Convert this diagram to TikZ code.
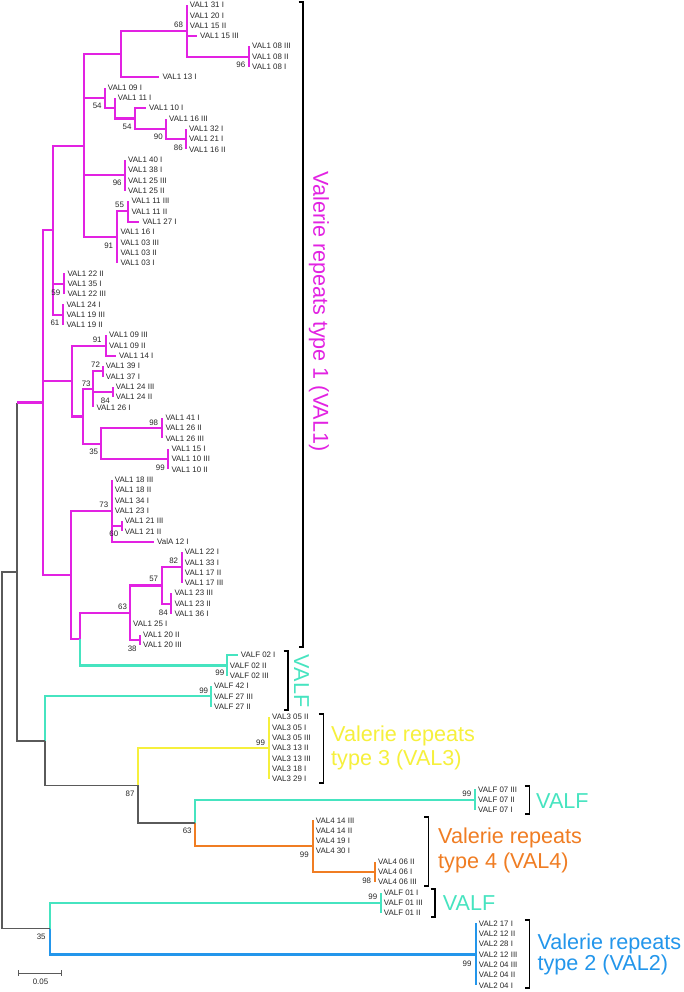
\documentclass[tikz,border=0pt]{standalone}
\usepackage{fontspec}
\setmainfont{Liberation Sans}
\usepackage{tikz}
\definecolor{valone}{RGB}{226, 34, 226}
\definecolor{valf}{RGB}{70, 228, 192}
\definecolor{valthree}{RGB}{246, 240, 60}
\definecolor{valfour}{RGB}{240, 125, 35}
\definecolor{valtwo}{RGB}{35, 150, 235}
\definecolor{treegray}{RGB}{90, 90, 90}
\definecolor{labgray}{RGB}{40, 40, 40}
\newcommand{\clade}[3]{
\foreach \kid in {#3} {\draw[#1] (#2) |- (\kid);}
}
\newcommand{\grpbracket}[3]{
\draw[brk] (#1-4.5,#2) -- (#1,#2) -- (#1,#3) -- (#1-4.5,#3);
}

\begin{document}
\begin{tikzpicture}[x=1pt, y=-1pt,
    v1/.style={valone, line width=2.1pt},
    vf/.style={valf, line width=2.1pt},
    v3/.style={valthree, line width=2.1pt},
    v4/.style={valfour, line width=2.1pt},
    v2/.style={valtwo, line width=2.1pt},
    bb/.style={treegray, line width=1.6pt},
    brk/.style={black, line width=1.5pt},
    lab/.style={anchor=west, inner sep=0pt, xshift=3pt, text=labgray, font=\fontsize{7.9}{9}\selectfont},
    boot/.style={inner sep=0pt, text=labgray, font=\fontsize{7.9}{9}\selectfont},
    grp/.style={inner sep=0pt, font=\fontsize{21.6}{24}\selectfont}]
    \fill[white] (0,0) rectangle (684,992);
    \useasboundingbox (0,0) rectangle (684,992);

    % tips and their names
    \foreach \i/\x/\txt in {0/186.7/VAL1 31 I, 1/186.7/VAL1 20 I, 2/186.7/VAL1 15 II,
        3/197/VAL1 15 III, 4/249/VAL1 08 III, 5/249/VAL1 08 II, 6/249/VAL1 08 I,
        7/159.3/VAL1 13 I, 8/104.7/VAL1 09 I, 9/114.7/VAL1 11 I, 10/146/VAL1 10 I,
        11/166/VAL1 16 III, 12/186/VAL1 32 I, 13/186/VAL1 21 I, 14/186/VAL1 16 II,
        15/125/VAL1 40 I, 16/125/VAL1 38 I, 17/125/VAL1 25 III, 18/125/VAL1 25 II,
        19/128.3/VAL1 11 III, 20/128.3/VAL1 11 II, 21/139.3/VAL1 27 I,
        22/117.3/VAL1 16 I, 23/117.3/VAL1 03 III, 24/117.3/VAL1 03 II, 25/117.3/VAL1 03 I,
        26/64.3/VAL1 22 II, 27/64.3/VAL1 35 I, 28/64.3/VAL1 22 III,
        29/63.3/VAL1 24 I, 30/63.3/VAL1 19 III, 31/63.3/VAL1 19 II,
        32/106/VAL1 09 III, 33/106/VAL1 09 II, 34/116/VAL1 14 I,
        35/102.7/VAL1 39 I, 36/102.7/VAL1 37 I, 37/112.7/VAL1 24 III, 38/112.7/VAL1 24 II,
        39/93.3/VAL1 26 I, 40/162.3/VAL1 41 I, 41/162.3/VAL1 26 II, 42/162.3/VAL1 26 III,
        43/168.3/VAL1 15 I, 44/168.3/VAL1 10 III, 45/168.3/VAL1 10 II,
        46/111.7/VAL1 18 III, 47/111.7/VAL1 18 II, 48/111.7/VAL1 34 I, 49/111.7/VAL1 23 I,
        50/121.7/VAL1 21 III, 51/121.7/VAL1 21 II, 52/154/ValA 12 I,
        53/181.7/VAL1 22 I, 54/181.7/VAL1 33 I, 55/181.7/VAL1 17 II, 56/181.7/VAL1 17 III,
        57/171.3/VAL1 23 III, 58/171.3/VAL1 23 II, 59/171.3/VAL1 36 I,
        60/130/VAL1 25 I, 61/140/VAL1 20 II, 62/140/VAL1 20 III,
        63/237.7/VALF 02 I, 64/226.7/VALF 02 II, 65/226.7/VALF 02 III,
        66/211/VALF 42 I, 67/211/VALF 27 III, 68/211/VALF 27 II,
        69/269/VAL3 05 II, 70/269/VAL3 05 I, 71/269/VAL3 05 III, 72/269/VAL3 13 II,
        73/269/VAL3 13 III, 74/269/VAL3 18 I, 75/269/VAL3 29 I,
        76/475/VALF 07 III, 77/475/VALF 07 II, 78/475/VALF 07 I,
        79/312.7/VAL4 14 III, 80/312.7/VAL4 14 II, 81/312.7/VAL4 19 I, 82/312.7/VAL4 30 I,
        83/375/VAL4 06 II, 84/375/VAL4 06 I, 85/375/VAL4 06 III,
        86/380.7/VALF 01 I, 87/380.7/VALF 01 III, 88/380.7/VALF 01 II,
        89/475.7/VAL2 17 I, 90/475.7/VAL2 12 II, 91/475.7/VAL2 28 I, 92/475.7/VAL2 12 III,
        93/475.7/VAL2 04 III, 94/475.7/VAL2 04 II, 95/475.7/VAL2 04 I}
    {
        \pgfmathsetmacro{\yy}{5+10.32*\i}
        \coordinate (t\i) at (\x,\yy);
        \node[lab] (l\i) at (t\i) {\txt};
    }

    % inner nodes
    \coordinate (n08) at (249,56.6);
    \coordinate (n68) at (186.7,30.8);
    \coordinate (n13) at (120.7,54.0);
    \coordinate (n86) at (186,139.16);
    \coordinate (n90) at (166,128.84);
    \coordinate (n54b) at (135.3,118.52);
    \coordinate (n114) at (114.7,108.2);
    \coordinate (n54a) at (104.7,97.88);
    \coordinate (n96b) at (125,175.28);
    \coordinate (n55) at (128.3,211.4);
    \coordinate (n91) at (117.3,237.2);
    \coordinate (nA) at (84,145.6);
    \coordinate (n59) at (64.3,283.64);
    \coordinate (n61) at (63.3,314.6);
    \coordinate (nB) at (52.7,230.1);
    \coordinate (n91b) at (106,345.56);
    \coordinate (n72) at (102.7,371.36);
    \coordinate (n84) at (112.7,392);
    \coordinate (n73a) at (93.3,389.42);
    \coordinate (n98) at (162.3,428.12);
    \coordinate (n99a) at (168.3,459.08);
    \coordinate (n35) at (100.7,443.6);
    \coordinate (nC2) at (82.7,416.5);
    \coordinate (nC) at (71.7,381.0);
    \coordinate (n60) at (121.7,526.16);
    \coordinate (n73b) at (111.7,510.68);
    \coordinate (n82) at (181.7,567.44);
    \coordinate (n84b) at (171.3,603.56);
    \coordinate (n57) at (161.7,585.5);
    \coordinate (n38) at (140,639.68);
    \coordinate (n63) at (130,612.59);
    \coordinate (n99b) at (226.7,665.48);
    \coordinate (nD) at (80,639.0);
    \coordinate (nE) at (70.7,574.8);
    \coordinate (nV1) at (42.7,402.5);
    \coordinate (n99c) at (211,696.44);
    \coordinate (n99d) at (269,748.04);
    \coordinate (n99e) at (475,799.64);
    \coordinate (n98b) at (375,871.88);
    \coordinate (n99f) at (312.7,846.08);
    \coordinate (n63b) at (195,822.86);
    \coordinate (n87) at (137.7,785.45);
    \coordinate (nF) at (45,740.9);
    \coordinate (nG) at (17,571.7);
    \coordinate (n99g) at (380.7,902.84);
    \coordinate (n99h) at (475.7,954.44);
    \coordinate (n35b) at (50,928.64);
    \coordinate (root) at (2,750.2);

    % VAL1
    \clade{v1}{n08}{t4,t5,t6}
    \clade{v1}{n68}{t0,t1,t2,t3,n08}
    \clade{v1}{n13}{n68,t7}
    \clade{v1}{n86}{t12,t13,t14}
    \clade{v1}{n90}{t11,n86}
    \clade{v1}{n54b}{t10,n90}
    \clade{v1}{n114}{t9,n54b}
    \clade{v1}{n54a}{t8,n114}
    \clade{v1}{n96b}{t15,t16,t17,t18}
    \clade{v1}{n55}{t19,t20,t21}
    \clade{v1}{n91}{n55,t22,t23,t24,t25}
    \clade{v1}{nA}{n13,n54a,n96b,n91}
    \clade{v1}{n59}{t26,t27,t28}
    \clade{v1}{n61}{t29,t30,t31}
    \clade{v1}{nB}{nA,n59,n61}
    \clade{v1}{n91b}{t32,t33,t34}
    \clade{v1}{n72}{t35,t36}
    \clade{v1}{n84}{t37,t38}
    \clade{v1}{n73a}{n72,n84,t39}
    \clade{v1}{n98}{t40,t41,t42}
    \clade{v1}{n99a}{t43,t44,t45}
    \clade{v1}{n35}{n98,n99a}
    \clade{v1}{nC2}{n73a,n35}
    \clade{v1}{nC}{n91b,nC2}
    \clade{v1}{n60}{t50,t51}
    \clade{v1}{n73b}{t46,t47,t48,t49,n60,t52}
    \clade{v1}{n82}{t53,t54,t55,t56}
    \clade{v1}{n84b}{t57,t58,t59}
    \clade{v1}{n57}{n82,n84b}
    \clade{v1}{n38}{t61,t62}
    \clade{v1}{n63}{n57,t60,n38}
    \clade{v1}{nD}{n63}
    \clade{v1}{nE}{n73b,nD}
    \clade{v1}{nV1}{nB,nC,nE}
    % VALF
    \clade{vf}{n99b}{t63,t64,t65}
    \clade{vf}{nD}{n99b}
    \clade{vf}{n99c}{t66,t67,t68}
    \clade{vf}{nF}{n99c}
    \clade{vf}{n99e}{t76,t77,t78}
    \clade{vf}{n63b}{n99e}
    \clade{vf}{n99g}{t86,t87,t88}
    \clade{vf}{n35b}{n99g}
    % VAL3, VAL4, VAL2
    \clade{v3}{n99d}{t69,t70,t71,t72,t73,t74,t75}
    \clade{v3}{n87}{n99d}
    \clade{v4}{n98b}{t83,t84,t85}
    \clade{v4}{n99f}{t79,t80,t81,t82,n98b}
    \clade{v4}{n63b}{n99f}
    \clade{v2}{n99h}{t89,t90,t91,t92,t93,t94,t95}
    \clade{v2}{n35b}{n99h}
    % backbone
    \clade{bb}{n87}{n63b}
    \clade{bb}{nF}{n87}
    \clade{bb}{nG}{nF}
    \clade{bb}{root}{nG,n35b}
    \draw[bb] (nG) -- (nG |- nV1);
    \draw[v1] (nG |- nV1) -- (nV1);

    % bootstrap values
    \foreach \x/\y/\v [count=\k] in {178.5/24.7/68, 240.8/65/96, 97.2/106/54, 127/127/54,
        158.3/136.5/90, 178.3/147.5/86, 117.2/183/96, 119.5/205/55, 108.7/246/91,
        55.8/292.5/59, 55/322.5/61, 97.2/339.3/91, 95.5/365/72, 86.2/383.3/73,
        105.3/400.5/84, 153.7/422.5/98, 93.7/451.5/35, 160.3/467.7/99, 103.8/504.7/73,
        113.8/534/60, 173.7/561/82, 153.7/579.3/57, 122.5/606.7/63, 163.3/612.7/84,
        132.2/648.3/38, 219.8/672.5/99, 203.7/690.7/99, 260.5/742.7/99, 130/794/87,
        187.2/831/63, 466.8/793.3/99, 304.3/855/99, 366.7/880.5/98, 372.8/896.7/99,
        467/963.3/99, 41.2/937/35}
    {
        \node[boot] (bs\k) at (\x,\y) {\v};
    }

    % groups
    \grpbracket{303}{2}{647}
    \grpbracket{288}{651}{710}
    \grpbracket{323.3}{714}{783}
    \grpbracket{529.3}{786}{814}
    \grpbracket{428.5}{817}{886}
    \grpbracket{435}{889}{917}
    \grpbracket{529.3}{920}{988}
    \node[grp, text=valone, rotate=-90] (gval1) at (319,311.5) {Valerie repeats type 1 (VAL1)};
    \node[grp, text=valf, rotate=-90] (gvalfa) at (301.5,681) {VALF};
    \node[grp, text=valthree, anchor=base west] (gval3a) at (331,741) {Valerie repeats};
    \node[grp, text=valthree, anchor=base west] (gval3b) at (331,765) {type 3 (VAL3)};
    \node[grp, text=valf, anchor=base west] (gvalfb) at (536,808) {VALF};
    \node[grp, text=valfour, anchor=base west] (gval4a) at (438,843.3) {Valerie repeats};
    \node[grp, text=valfour, anchor=base west] (gval4b) at (438,868) {type 4 (VAL4)};
    \node[grp, text=valf, anchor=base west] (gvalfc) at (442.7,910) {VALF};
    \node[grp, text=valtwo, anchor=base west] (gval2a) at (537.3,949.3) {Valerie repeats};
    \node[grp, text=valtwo, anchor=base west] (gval2b) at (537.3,970.7) {type 2 (VAL2)};

    % scale
    \coordinate (sbl) at (18.3,973.3);
    \coordinate (sbr) at (61.7,973.3);
    \draw[treegray, line width=0.9pt] (sbl) -- (sbr);
    \draw[treegray, line width=0.9pt] ([yshift=3pt]sbl) -- ([yshift=-3pt]sbl);
    \draw[treegray, line width=0.9pt] ([yshift=3pt]sbr) -- ([yshift=-3pt]sbr);
    \node[boot] (sblab) at (40.5,981.5) {0.05};
\end{tikzpicture}
\end{document}
